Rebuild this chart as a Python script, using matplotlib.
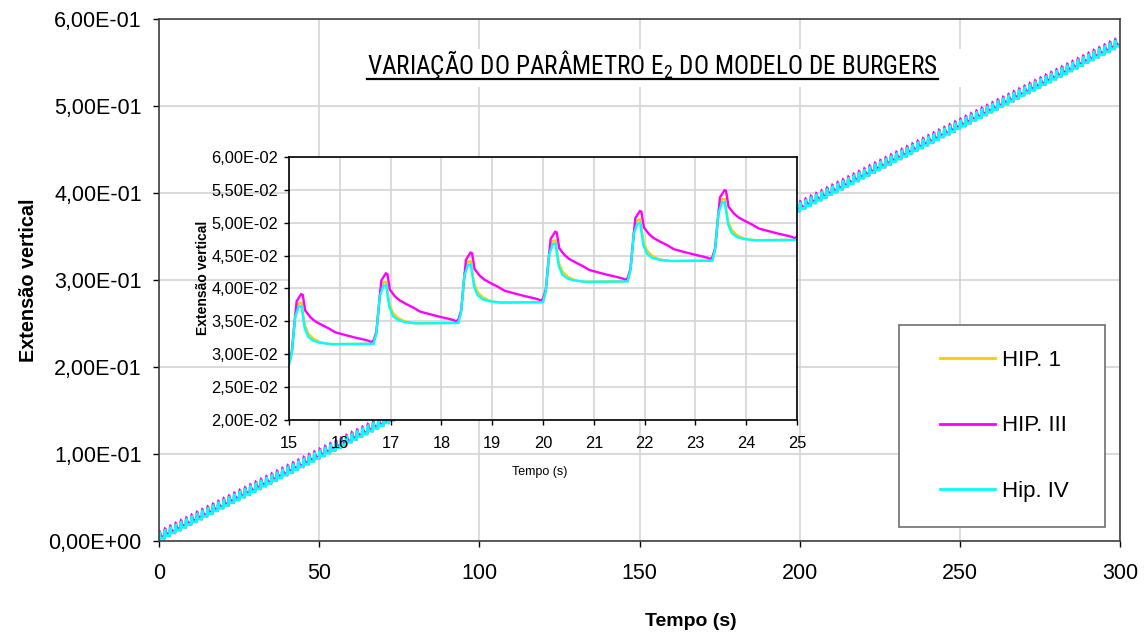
import numpy as np
import matplotlib
matplotlib.use("Agg")
import matplotlib.pyplot as plt
from matplotlib.patches import Rectangle
from matplotlib.lines import Line2D
from matplotlib.font_manager import FontProperties, findfont

# ---- loading programme -------------------------------------------------
period = 5.0 / 3.0          # s, one load pulse
n_cycles = 180              # 0 .. 300 s
cycle_step = 0.00316        # permanent strain gained per pulse

# one pulse of each hypothesis: time into the pulse (s) and strain above
# the level at the start of that pulse
pulse_t_hip1 = [0.0, 0.055, 0.12, 0.19, 0.245, 0.31, 0.38, 0.48, 0.61, 0.72, 0.84, 1.667]
pulse_v_hip1 = [0.0, 0.0017, 0.0075, 0.0093, 0.0094, 0.0060, 0.0047, 0.0039, 0.0034, 0.0032, 0.0031, 0.00316]

pulse_t_hip3 = [0.0, 0.055, 0.15, 0.19, 0.24, 0.27, 0.32, 0.42, 0.51, 0.65, 0.78, 0.91, 1.10, 1.30, 1.47, 1.57, 1.62, 1.667]
pulse_v_hip3 = [0.0005, 0.0019, 0.0096, 0.0101, 0.0107, 0.0106, 0.0082, 0.0072, 0.0066, 0.0060, 0.0055, 0.0049, 0.0045, 0.0041, 0.0038, 0.0036, 0.0034, 0.00366]

pulse_t_hip4 = [0.0, 0.055, 0.12, 0.19, 0.245, 0.31, 0.38, 0.48, 0.61, 0.84, 1.667]
pulse_v_hip4 = [0.0, 0.0017, 0.0072, 0.0088, 0.0089, 0.0055, 0.0042, 0.0036, 0.0033, 0.0031, 0.00316]

series_names = ["HIP. 1", "HIP. III", "Hip. IV"]
series_colors = ["#FFCC00", "#FF00FF", "#00FFFF"]

main_xticks = [0, 50, 100, 150, 200, 250, 300]
main_yticks = [0.0, 0.1, 0.2, 0.3, 0.4, 0.5, 0.6]
inset_xticks = [15, 16, 17, 18, 19, 20, 21, 22, 23, 24, 25]
inset_yticks = [0.020, 0.025, 0.030, 0.035, 0.040, 0.045, 0.050, 0.055, 0.060]


def repeat_pulse(pt, pv):
    """Chain the pulse n_cycles times, each one starting where the last ended."""
    pt = np.asarray(pt)
    pv = np.asarray(pv)
    k = np.arange(n_cycles)[:, None]
    t = (k * period + pt[None, :-1]).ravel()
    v = (k * cycle_step + pv[None, :-1]).ravel()
    t = np.append(t, (n_cycles - 1) * period + pt[-1])
    v = np.append(v, (n_cycles - 1) * cycle_step + pv[-1])
    return t, v


curves = [repeat_pulse(pulse_t_hip1, pulse_v_hip1),
          repeat_pulse(pulse_t_hip3, pulse_v_hip3),
          repeat_pulse(pulse_t_hip4, pulse_v_hip4)]


def sci_comma(v, _pos=None):
    return f"{v:.2E}".replace(".", ",")


# ---- fonts ---------------------------------------------------------------
plt.rcParams["font.family"] = ["Liberation Sans", "DejaVu Sans"]

title_family = ["Liberation Sans", "DejaVu Sans"]
for cand in ("Liberation Sans Narrow", "Roboto Condensed", "Open Sans Condensed",
             "DejaVu Sans Condensed"):
    try:
        findfont(FontProperties(family=cand), fallback_to_default=False)
        title_family = [cand, "DejaVu Sans"]
        break
    except Exception:
        pass

W, H = 1145, 636
TITLE_WIDTH = 571           # px the title line spans


def fx(x):
    return x / W


def fy(y):
    return 1 - y / H


fig = plt.figure(figsize=(W / 100, H / 100), dpi=100)
fig.patch.set_facecolor("white")

# ---- main chart ----------------------------------------------------------
ax = fig.add_axes([fx(159), fy(541), (1120 - 159) / W, (541 - 19) / H])
ax.set_axisbelow(True)
for (t, v), c in zip(curves, series_colors):
    ax.plot(t, v, color=c, lw=2.0, solid_joinstyle="miter", zorder=2)
ax.set_xlim(0, 300)
ax.set_ylim(0, 0.6)
ax.set_xticks(main_xticks)
ax.set_yticks(main_yticks)
ax.yaxis.set_major_formatter(plt.FuncFormatter(sci_comma))
ax.grid(True, color="#d4d4d4", lw=1.2)
ax.tick_params(axis="both", direction="out", length=4.5, width=1.0, labelsize=15.5, color="black")
ax.tick_params(axis="y", pad=8)
ax.tick_params(axis="x", pad=11)
for s in ax.spines.values():
    s.set_color("#404040")
    s.set_linewidth(1.2)

fig.text(fx(29), fy(280), "Extensão vertical", rotation=90, ha="center", va="center",
         fontsize=14.3, fontweight="bold")
fig.text(fx(691), fy(621), "Tempo (s)", ha="center", va="center",
         fontsize=14, fontweight="bold")

# title with its own white panel
ax.add_patch(Rectangle((fx(345), fy(87)), (968 - 345) / W, (87 - 49) / H,
                       transform=fig.transFigure, facecolor="white", edgecolor="none",
                       zorder=1.5, clip_on=False))
title = ax.text(fx(652.5), fy(74), r"VARIAÇÃO DO PARÂMETRO E$_\mathregular{2}$ DO MODELO DE BURGERS",
                transform=fig.transFigure, ha="center", va="baseline",
                fontsize=16, family=title_family, zorder=3)

# legend panel
ax.add_patch(Rectangle((fx(899), fy(527)), (1105 - 899) / W, (527 - 325) / H,
                       transform=fig.transFigure, facecolor="white", edgecolor="#707070",
                       lw=1.2, zorder=4, clip_on=False))
handles = [Line2D([], [], color=c, lw=2.0) for c in series_colors]
leg = ax.legend(handles, series_names, loc="upper left",
                bbox_to_anchor=(fx(940), fy(350)), bbox_transform=fig.transFigure,
                frameon=False, fontsize=16, borderpad=0, borderaxespad=0,
                handlelength=2.47, handletextpad=0.3, labelspacing=2.0)
leg.set_zorder(5)

# ---- inset ---------------------------------------------------------------
axi = fig.add_axes([fx(289), fy(420), (797 - 289) / W, (420 - 157) / H], zorder=3)
axi.set_facecolor("white")
axi.set_axisbelow(True)
for (t, v), c in zip(curves, series_colors):
    axi.plot(t, v, color=c, lw=1.7, solid_joinstyle="miter", zorder=2)
axi.set_xlim(15, 25)
axi.set_ylim(0.02, 0.06)
axi.set_xticks(inset_xticks)
axi.set_yticks(inset_yticks)
axi.yaxis.set_major_formatter(plt.FuncFormatter(sci_comma))
axi.grid(True, color="#d4d4d4", lw=1.2)
axi.tick_params(axis="both", direction="out", length=3.6, width=1.0, labelsize=11.8, color="black")
axi.tick_params(axis="y", pad=4)
axi.tick_params(axis="x", pad=8)
for s in axi.spines.values():
    s.set_color("black")
    s.set_linewidth(1.2)

fig.text(fx(203), fy(278), "Extensão vertical", rotation=90, ha="center", va="center",
         fontsize=10, fontweight="bold")
fig.text(fx(540), fy(472), "Tempo (s)", ha="center", va="center", fontsize=9)

# size the title to its line width, then underline it
fig.canvas.draw()
w = title.get_window_extent().width
title.set_fontsize(16 * TITLE_WIDTH / w)
fig.canvas.draw()
bb = title.get_window_extent()
fig.add_artist(Line2D([bb.x0 / W, bb.x1 / W], [fy(78.5), fy(78.5)],
                      transform=fig.transFigure, color="black", lw=1.6))

fig.savefig("out.png", dpi=100, facecolor="white")
